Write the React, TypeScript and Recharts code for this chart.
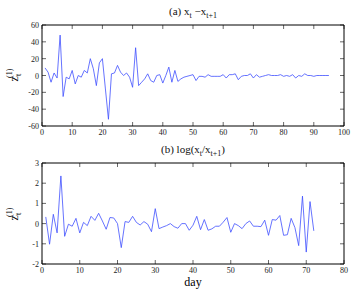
import { LineChart, Line, XAxis, YAxis } from "recharts"

// (a) x_t - x_{t+1}, days 1..95
const diffValues = [
  9, 4, -8, 3, -3, 48, -25, -2, -4, 6,
  -10, 0, -2, 6, 3, 20, 8, -12, 15, 20,
  -16, -52, 2, 3, 12, 4, 0, 3, -2, -14,
  33, -12, -8, -4, 2, -6, -8, 0, 1, -9,
  0, 10, -8, 6, -7, -4, -2, -1, 0, 1,
  -6, -1, -1, -2, 1, -1, -1, -1, -1, 1,
  -3, 1, 1, 2, -5, -1, 0, 0, 2, -3,
  1, -2, -1, 0, 1, 0, 0, 0, 1, -1,
  0, -1, 1, -3, 0, -1, 2, 0, 0, -1,
  0, 0, 0, 0, 0,
]

// (b) log(x_t / x_{t+1}), days 1..72
const logValues = [
  0.33, -1.02, 0.46, -0.46, 2.36, -0.63, -0.03, -0.13, 0.26, -0.46,
  0.06, -0.1, 0.36, 0.16, 0.51, 0.13, -0.28, 0.3, 0.28, 0,
  -1.19, 0.1, 0.06, 0.36, 0.06, -0.07, 0.1, -0.03, -0.4, 0.74,
  -0.25, -0.17, -0.1, 0, -0.15, -0.23, 0, 0, -0.33, -0.08,
  0.36, -0.3, 0.2, -0.33, -0.26, -0.13, -0.13, 0.07, 0.3, -0.43,
  0, -0.1, -0.25, 0, 0.13, -0.13, -0.13, -0.15, 0.17, -0.58,
  0.2, 0.17, 0.4, -0.58, -0.55, 0.26, -0.2, -1.09, 1.36, -1.41,
  1.09, -0.36,
]

const topXTicks = [0, 10, 20, 30, 40, 50, 60, 70, 80, 90, 100]
const topYTicks = [-60, -40, -20, 0, 20, 40, 60]
const bottomXTicks = [0, 10, 20, 30, 40, 50, 60, 70, 80]
const bottomYTicks = [-2, -1, 0, 1, 2, 3]

const diffData = diffValues.map((v, i) => ({ day: i + 1, value: v }))
const logData = logValues.map((v, i) => ({ day: i + 1, value: v }))

const FONT = "'Liberation Serif', 'DejaVu Serif', serif"
const LINE = "#3f4fff"
const TICK = 4

type Side = "bottom" | "top" | "left" | "right"

function makeTick(side: Side, label: boolean) {
  return (p: any) => {
    const { x, y, payload } = p
    let line
    if (side === "bottom") line = <line x1={x} y1={y} x2={x} y2={y - TICK} stroke="#000" strokeWidth={0.6} />
    else if (side === "top") line = <line x1={x} y1={y} x2={x} y2={y + TICK} stroke="#000" strokeWidth={0.6} />
    else if (side === "left") line = <line x1={x} y1={y} x2={x + TICK} y2={y} stroke="#000" strokeWidth={0.6} />
    else line = <line x1={x} y1={y} x2={x - TICK} y2={y} stroke="#000" strokeWidth={0.6} />
    return (
      <g>
        {line}
        {label && side === "bottom" && (
          <text x={x} y={y + 9} textAnchor="middle" fontSize={8} fontFamily={FONT} fill="#222">
            {payload.value}
          </text>
        )}
        {label && side === "left" && (
          <text x={x - 3} y={y + 3} textAnchor="end" fontSize={8} fontFamily={FONT} fill="#222">
            {payload.value}
          </text>
        )}
      </g>
    )
  }
}

interface PanelProps {
  readonly data: { day: number; value: number }[]
  readonly xMax: number
  readonly xTicks: number[]
  readonly yTicks: number[]
  readonly height: number
  readonly top: number
  readonly bottomAxis: number
}

function Panel({ data, xMax, xTicks, yTicks, height, top, bottomAxis }: PanelProps) {
  const yDomain: [number, number] = [yTicks[0], yTicks[yTicks.length - 1]]
  const axisProps = { stroke: "#000", tickSize: 0, tickMargin: 0, tickLine: false, interval: 0 as const, allowDataOverflow: true }
  return (
    <LineChart width={354} height={height} data={data} margin={{ top: top - 5, right: 0, bottom: 0, left: 0 }}>
      <XAxis xAxisId="b" dataKey="day" type="number" domain={[0, xMax]} ticks={xTicks} height={bottomAxis}
        tick={makeTick("bottom", true)} {...axisProps} />
      <XAxis xAxisId="t" orientation="top" dataKey="day" type="number" domain={[0, xMax]} ticks={xTicks} height={5}
        tick={makeTick("top", false)} {...axisProps} />
      <YAxis yAxisId="l" type="number" domain={yDomain} ticks={yTicks} width={42}
        tick={makeTick("left", true)} {...axisProps} />
      <YAxis yAxisId="r" orientation="right" type="number" domain={yDomain} ticks={yTicks} width={10}
        tick={makeTick("right", false)} {...axisProps} />
      <Line xAxisId="b" yAxisId="l" dataKey="value" stroke={LINE} strokeWidth={0.8} dot={false}
        isAnimationActive={false} type="linear" />
    </LineChart>
  )
}

function ZLabel({ x, y }: { x: number; y: number }) {
  return (
    <text transform={`translate(${x},${y}) rotate(-90)`} fontFamily={FONT} fontSize={12} textAnchor="middle" fill="#000">
      z
      <tspan dy={3} fontSize={8}>t</tspan>
      <tspan dx={-4} dy={-9} fontSize={8}>(1)</tspan>
    </text>
  )
}

export default function App() {
  return (
    <div style={{ position: "relative", width: 354, height: 289, background: "#fff" }}>
      <style>{"body{margin:0}"}</style>
      <div style={{ position: "absolute", left: 0, top: 0 }}>
        <Panel data={diffData} xMax={100} xTicks={topXTicks} yTicks={topYTicks} height={140} top={25} bottomAxis={14} />
      </div>
      <div style={{ position: "absolute", left: 0, top: 140 }}>
        <Panel data={logData} xMax={80} xTicks={bottomXTicks} yTicks={bottomYTicks} height={149} top={23} bottomAxis={25} />
      </div>
      <svg width={354} height={289} style={{ position: "absolute", left: 0, top: 0, pointerEvents: "none" }}>
        <text x={193} y={15} textAnchor="middle" fontFamily={FONT} fontSize={11} fill="#111">
          (a) x<tspan dy={3} fontSize={8}>t</tspan>
          <tspan dy={-3}> −x</tspan>
          <tspan dy={3} fontSize={8}>t+1</tspan>
        </text>
        <text x={193} y={153} textAnchor="middle" fontFamily={FONT} fontSize={11} fill="#111">
          (b) log(x<tspan dy={3} fontSize={8}>t</tspan>
          <tspan dy={-3}>/x</tspan>
          <tspan dy={3} fontSize={8}>t+1</tspan>
          <tspan dy={-3}>)</tspan>
        </text>
        <ZLabel x={18} y={75} />
        <ZLabel x={18} y={214} />
        <text x={193} y={286} textAnchor="middle" fontFamily={FONT} fontSize={12} fill="#000">day</text>
      </svg>
    </div>
  )
}
